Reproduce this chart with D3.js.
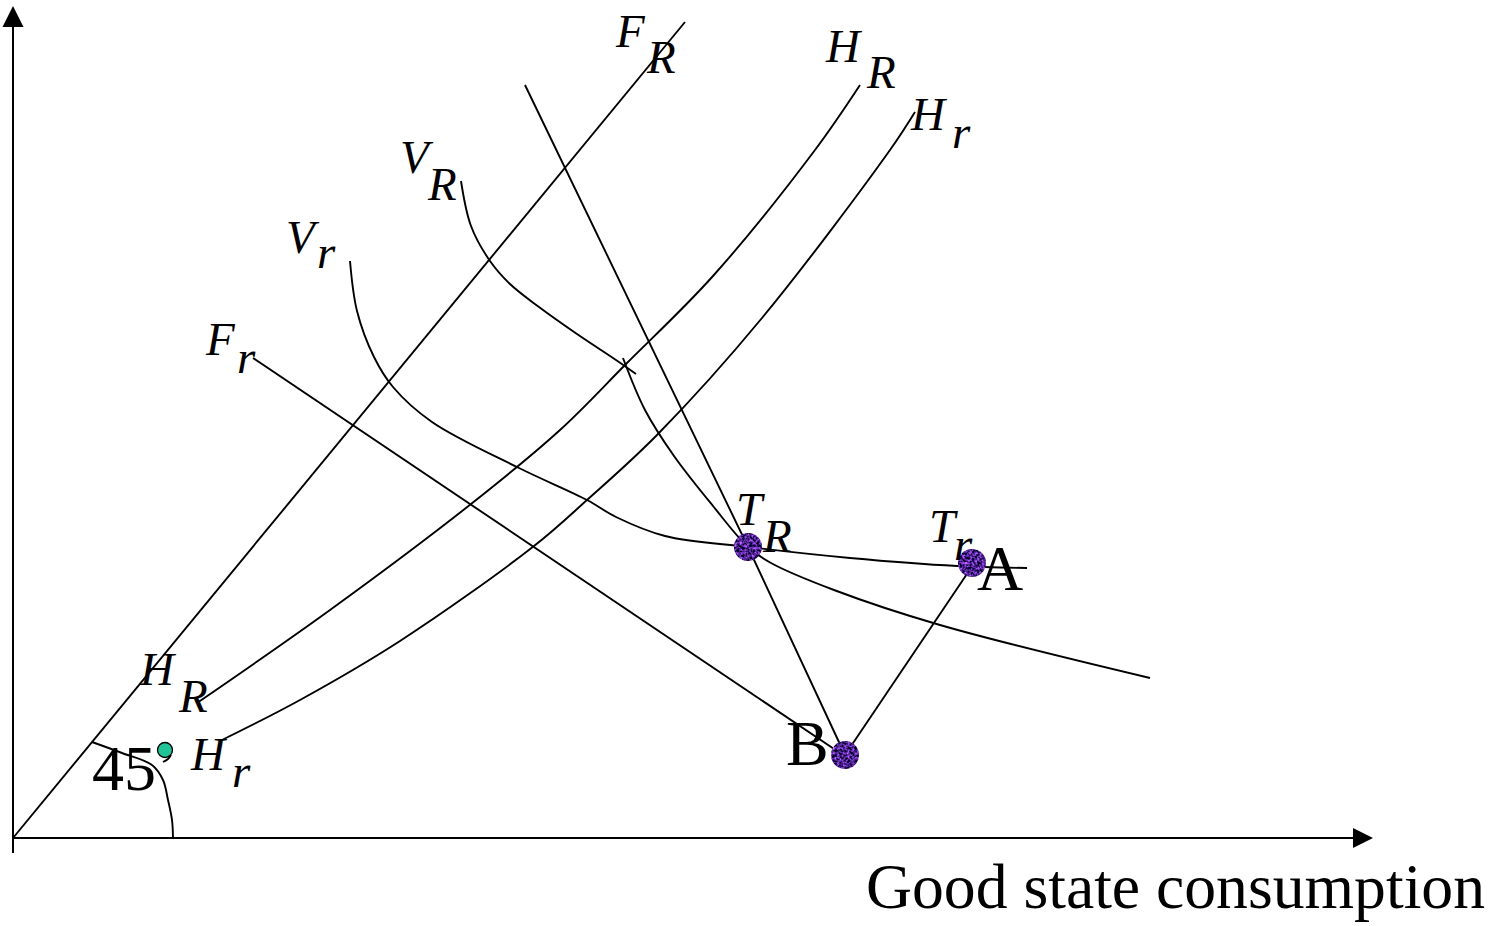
<!DOCTYPE html>
<html>
<head>
<meta charset="utf-8">
<script src="https://cdn.jsdelivr.net/npm/d3@7"></script>
<style>
  html, body { margin: 0; padding: 0; background: #fff; }
  svg { display: block; }
  .lab { font-family: "Liberation Serif", "Times New Roman", serif; fill: #000; }
  .it { font-style: italic; }
</style>
</head>
<body>
<svg id="chart" width="1507" height="926"></svg>
<script>
// Consumption plane: x = good-state consumption, y = bad-state consumption.
// Each curve is a list of [good, bad] points.

const certaintyLine = [[0, 0], [672, 816]];                 // F_R (45° line)
const fairOddsLine = [[240, 480], [830, 83]];               // F_r
const budgetLine = [[512, 753], [735, 291], [832, 83]];     // through T_R to B
const lineBA = [[832, 83], [960, 273]];

const isoH_R = [[184, 135], [317, 228], [458, 334], [547, 408], [613, 474],
                [700, 562], [802, 688], [847, 753]];
const isoH_r = [[209, 98], [287, 138], [387, 197], [521, 292], [574, 338],
                [644, 403], [749, 520], [877, 688], [902, 726]];

const indiffV_Rupper = [[448, 657], [458, 612], [477, 577], [497, 554],
                        [526, 531], [564, 504], [603, 478], [623, 464]];
const indiffV_Rlower = [[610, 480], [632, 428], [661, 382], [700, 332],
                        [735, 291], [758, 275], [821, 248], [927, 213], [1137, 160]];
const indiffV_r = [[337, 577], [344, 527], [361, 481], [380, 451], [419, 416],
                   [506, 370], [574, 338], [603, 321], [652, 302], [735, 291],
                   [837, 280], [944, 272], [1014, 270]];

const angleArc = [[79, 96], [109, 85], [139, 73], [150, 58], [155, 38], [159, 18], [160, 0]];
const degreeTail = [[158, 83], [155, 79], [150, 76]];

// Named points
const pointNames = ["T_R", "A", "B"];
const pointGood = [735, 959, 832];
const pointBad = [291, 275, 83];
const degreeDot = [152, 88];

// Curve labels: main letter, subscript, and their anchor points
const labelMain = ["F", "H", "H", "V", "V", "F", "H", "H", "T", "T"];
const labelSub = ["R", "R", "r", "R", "r", "r", "R", "r", "R", "r"];
const labelMainAt = [[603, 791], [813, 776], [898, 708], [387, 665], [273, 585],
                     [193, 483], [127, 153], [178, 68], [723, 313], [916, 296]];
const labelSubAt = [[634, 765], [854, 750], [939, 690], [415, 638], [304, 570],
                    [224, 465], [166, 126], [219, 51], [750, 286], [941, 278]];

// Upright labels
const plainText = ["A", "B", "45"];
const plainAt = [[964, 248], [773, 73], [79, 48]];
const xAxisTitle = "Good state consumption";

const svg = d3.select("#chart");

const x = d3.scaleLinear().domain([0, 1360]).range([13, 1373]);
const y = d3.scaleLinear().domain([0, 832]).range([838, 6]);

// Grainy violet texture for the state points
const defs = svg.append("defs");
const f = defs.append("filter").attr("id", "grain")
  .attr("color-interpolation-filters", "sRGB")
  .attr("x", "-10%").attr("y", "-10%").attr("width", "120%").attr("height", "120%");
f.append("feTurbulence").attr("type", "fractalNoise").attr("baseFrequency", 0.4)
  .attr("numOctaves", 2).attr("seed", 7).attr("result", "noise");
f.append("feColorMatrix").attr("in", "noise").attr("type", "matrix")
  .attr("values", "1.7 0 0 0 -0.55  0.9 0 0 0 -0.32  2.0 0 0 0 -0.45  0 0 0 0 1")
  .attr("result", "col");
f.append("feComposite").attr("in", "col").attr("in2", "SourceGraphic").attr("operator", "in");

// Axes with arrowheads
const x0 = x(0), y0 = y(0);
const xEnd = x.range()[1], yEnd = y.range()[1];
svg.append("line").attr("x1", x0).attr("y1", y0 + 15).attr("x2", x0).attr("y2", yEnd + 20)
  .attr("stroke", "#000").attr("stroke-width", 2);
svg.append("line").attr("x1", x0).attr("y1", y0).attr("x2", xEnd - 18).attr("y2", y0)
  .attr("stroke", "#000").attr("stroke-width", 2);
svg.append("path")
  .attr("d", `M${x0},${yEnd} L${x0 - 10.5},${yEnd + 21} L${x0 + 10.5},${yEnd + 21} Z`)
  .attr("fill", "#000");
svg.append("path")
  .attr("d", `M${xEnd},${y0} L${xEnd - 20},${y0 - 10} L${xEnd - 20},${y0 + 10} Z`)
  .attr("fill", "#000");

const straight = d3.line().x(d => x(d[0])).y(d => y(d[1]));
const smooth = d3.line().x(d => x(d[0])).y(d => y(d[1])).curve(d3.curveCatmullRom.alpha(0.5));

const lineGroup = svg.append("g").attr("fill", "none").attr("stroke", "#000")
  .attr("stroke-width", 1.9).attr("stroke-linejoin", "round");

[certaintyLine, fairOddsLine, budgetLine, lineBA].forEach(d =>
  lineGroup.append("path").attr("d", straight(d)));
[isoH_R, isoH_r, indiffV_Rupper, indiffV_Rlower, indiffV_r, angleArc, degreeTail].forEach(d =>
  lineGroup.append("path").attr("d", smooth(d)));

// Degree mark
svg.append("circle").attr("cx", x(degreeDot[0])).attr("cy", y(degreeDot[1])).attr("r", 7.5)
  .attr("fill", "#22c397").attr("stroke", "#000").attr("stroke-width", 1.3);

// State points
const pts = pointNames.map((n, i) => ({ n, g: pointGood[i], b: pointBad[i] }));
svg.append("g").selectAll("circle").data(pts).join("circle")
  .attr("cx", d => x(d.g)).attr("cy", d => y(d.b)).attr("r", 14)
  .attr("fill", "#3e2080").attr("filter", "url(#grain)");

// Italic curve labels with subscripts
const labs = labelMain.map((m, i) => ({ m, s: labelSub[i], a: labelMainAt[i], b: labelSubAt[i] }));
const lg = svg.append("g").attr("class", "lab it").attr("font-size", 47);
lg.selectAll("text.m").data(labs).join("text").attr("class", "m")
  .attr("x", d => x(d.a[0])).attr("y", d => y(d.a[1])).text(d => d.m);
lg.selectAll("text.s").data(labs).join("text").attr("class", "s")
  .attr("x", d => x(d.b[0])).attr("y", d => y(d.b[1])).text(d => d.s);

// Upright labels
svg.append("g").attr("class", "lab").attr("font-size", 64)
  .selectAll("text").data(plainText.map((t, i) => ({ t, p: plainAt[i] }))).join("text")
  .attr("x", d => x(d.p[0])).attr("y", d => y(d.p[1])).text(d => d.t);

svg.append("text").attr("class", "lab").attr("font-size", 64)
  .attr("x", 866).attr("y", 908).attr("textLength", 619).attr("lengthAdjust", "spacingAndGlyphs")
  .text(xAxisTitle);
</script>
</body>
</html>
